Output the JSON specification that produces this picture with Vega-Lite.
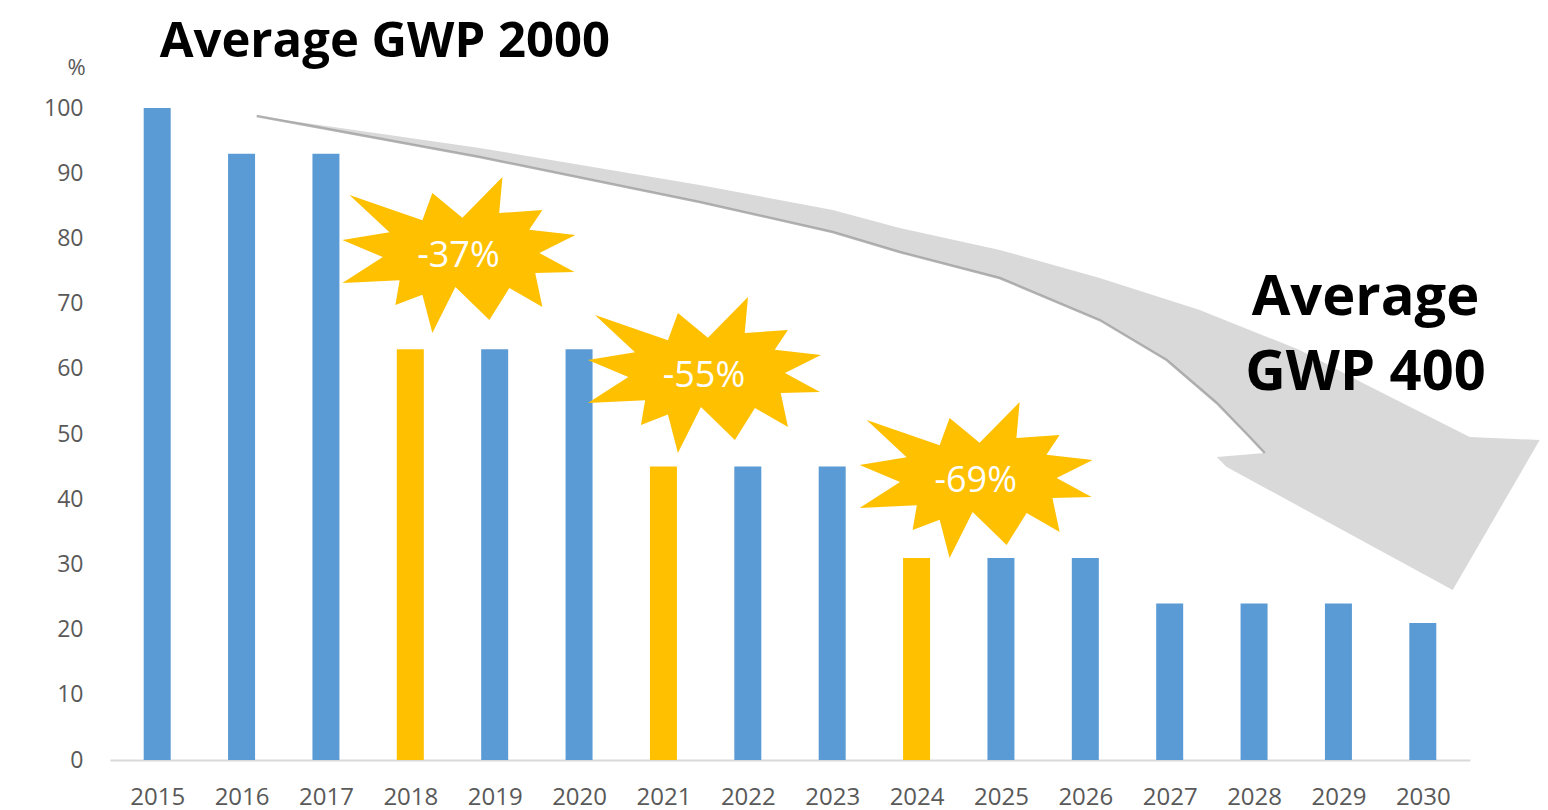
{
  "$schema": "https://vega.github.io/schema/vega-lite/v6.json",
  "width": 1360,
  "height": 652,
  "autosize": "none",
  "padding": {"left": 110, "top": 108, "right": 78, "bottom": 50},
  "background": "white",
  "config": {"view": {"stroke": null}, "font": "Open Sans"},
  "datasets": {
    "bars": [
      {"year": 2015, "pct": 100, "kind": "regular"},
      {"year": 2016, "pct": 93, "kind": "regular"},
      {"year": 2017, "pct": 93, "kind": "regular"},
      {"year": 2018, "pct": 63, "kind": "reduction step"},
      {"year": 2019, "pct": 63, "kind": "regular"},
      {"year": 2020, "pct": 63, "kind": "regular"},
      {"year": 2021, "pct": 45, "kind": "reduction step"},
      {"year": 2022, "pct": 45, "kind": "regular"},
      {"year": 2023, "pct": 45, "kind": "regular"},
      {"year": 2024, "pct": 31, "kind": "reduction step"},
      {"year": 2025, "pct": 31, "kind": "regular"},
      {"year": 2026, "pct": 31, "kind": "regular"},
      {"year": 2027, "pct": 24, "kind": "regular"},
      {"year": 2028, "pct": 24, "kind": "regular"},
      {"year": 2029, "pct": 24, "kind": "regular"},
      {"year": 2030, "pct": 21, "kind": "regular"}
    ],
    "arrow": [{"year": 2023, "pct": 60}],
    "stars": [
      {"year": 2018.57, "pct": 77.45, "label": "-37%"},
      {"year": 2021.48, "pct": 59.05, "label": "-55%"},
      {"year": 2024.70, "pct": 42.94, "label": "-69%"}
    ],
    "start": [{"year": 2015.03, "pct": 107.8, "label": "Average GWP 2000"}],
    "end": [{"year": 2029.32, "pct": 68.25, "label": "Average|GWP 400"}]
  },
  "encoding": {
    "x": {
      "field": "year",
      "type": "quantitative",
      "scale": {"domain": [2014.5, 2030.5], "nice": false, "zero": false},
      "axis": {
        "title": null,
        "values": [2015, 2016, 2017, 2018, 2019, 2020, 2021, 2022, 2023, 2024, 2025, 2026, 2027, 2028, 2029, 2030],
        "format": "d",
        "grid": false,
        "ticks": false,
        "tickSize": 0,
        "domainColor": "#D9D9D9",
        "domainWidth": 2,
        "labelFont": "Open Sans",
        "labelFontSize": 24,
        "labelColor": "#595959",
        "labelPadding": 25,
        "labelFlush": false,
        "labelOverlap": false
      }
    },
    "y": {
      "field": "pct",
      "type": "quantitative",
      "scale": {"domain": [0, 100], "nice": false},
      "axis": {
        "title": "%",
        "titleAngle": 0,
        "titleX": -34,
        "titleY": -41,
        "titleAlign": "center",
        "titleBaseline": "middle",
        "titleFontWeight": "normal",
        "titleFont": "Open Sans",
        "titleFontSize": 22,
        "titleColor": "#595959",
        "values": [0, 10, 20, 30, 40, 50, 60, 70, 80, 90, 100],
        "grid": false,
        "ticks": false,
        "tickSize": 0,
        "domain": false,
        "labelFont": "Open Sans",
        "labelFontSize": 23,
        "labelColor": "#595959",
        "labelPadding": 27
      }
    }
  },
  "layer": [
    {
      "data": {"name": "bars"},
      "mark": {"type": "bar", "size": 27},
      "encoding": {
        "color": {
          "field": "kind",
          "type": "nominal",
          "scale": {"domain": ["regular", "reduction step"], "range": ["#5B9BD5", "#FFC000"]},
          "legend": null
        }
      }
    },
    {
      "data": {"name": "arrow"},
      "mark": {
        "type": "point",
        "shape": "M-1.4388,-0.632 L-0.8813,-0.552 L-0.3313,-0.4595 L0.0013,-0.397 L0.1688,-0.352 L0.4188,-0.297 L0.6688,-0.227 L0.9188,-0.147 L1.1688,-0.047 L1.3363,0.0405 L1.5938,0.1705 L1.7688,0.178 L1.5513,0.553 L0.9863,0.2455 L0.9613,0.2205 L1.0813,0.2105 L1.0438,0.1705 L0.9613,0.0855 L0.8363,-0.022 L0.6688,-0.122 L0.4188,-0.227 L0.1688,-0.292 L0.0013,-0.342 L-0.3313,-0.417 L-0.8813,-0.5295 Z",
        "size": 640000,
        "filled": true,
        "fill": "#D9D9D9",
        "stroke": "#D9D9D9",
        "strokeWidth": 0,
        "opacity": 1
      }
    },
    {
      "data": {"name": "arrow"},
      "mark": {
        "type": "point",
        "shape": "M-1.4388,-0.632 L-0.8813,-0.5295 L-0.3313,-0.417 L0.0013,-0.342 L0.1688,-0.292 L0.4188,-0.227 L0.6688,-0.122 L0.8363,-0.022 L0.9613,0.0855 L1.0438,0.1705 L1.0813,0.2105",
        "size": 640000,
        "filled": false,
        "stroke": "#9A9A9A",
        "strokeWidth": 2.5,
        "opacity": 0.75
      }
    },
    {
      "data": {"name": "stars"},
      "mark": {
        "type": "point",
        "shape": "M0.975,-0.167 L0.675,-0.017 L0.967,0.142 L0.64,0.15 L0.7,0.433 L0.425,0.275 L0.258,0.542 L-0.025,0.267 L-0.217,0.65 L-0.3,0.33 L-0.525,0.417 L-0.49,0.21 L-0.967,0.233 L-0.63,0.017 L-0.967,-0.125 L-0.575,-0.19 L-0.908,-0.5 L-0.3,-0.29 L-0.217,-0.517 L0.033,-0.31 L0.367,-0.65 L0.34,-0.35 L0.7,-0.375 L0.59,-0.21 Z",
        "size": 57600,
        "filled": true,
        "fill": "#FFC000",
        "strokeWidth": 0,
        "opacity": 1
      }
    },
    {
      "data": {"name": "stars"},
      "mark": {
        "type": "text",
        "font": "Open Sans",
        "fontSize": 36,
        "color": "white",
        "align": "center",
        "baseline": "middle",
        "dy": 1
      },
      "encoding": {"text": {"field": "label", "type": "nominal"}}
    },
    {
      "data": {"name": "start"},
      "mark": {
        "type": "text",
        "font": "Open Sans",
        "fontWeight": "bold",
        "fontSize": 49,
        "color": "black",
        "align": "left",
        "baseline": "alphabetic"
      },
      "encoding": {"text": {"field": "label", "type": "nominal"}}
    },
    {
      "data": {"name": "end"},
      "mark": {
        "type": "text",
        "font": "Open Sans",
        "fontWeight": "bold",
        "fontSize": 56,
        "color": "black",
        "align": "center",
        "baseline": "alphabetic",
        "lineBreak": "|",
        "lineHeight": 75
      },
      "encoding": {"text": {"field": "label", "type": "nominal"}}
    }
  ]
}
